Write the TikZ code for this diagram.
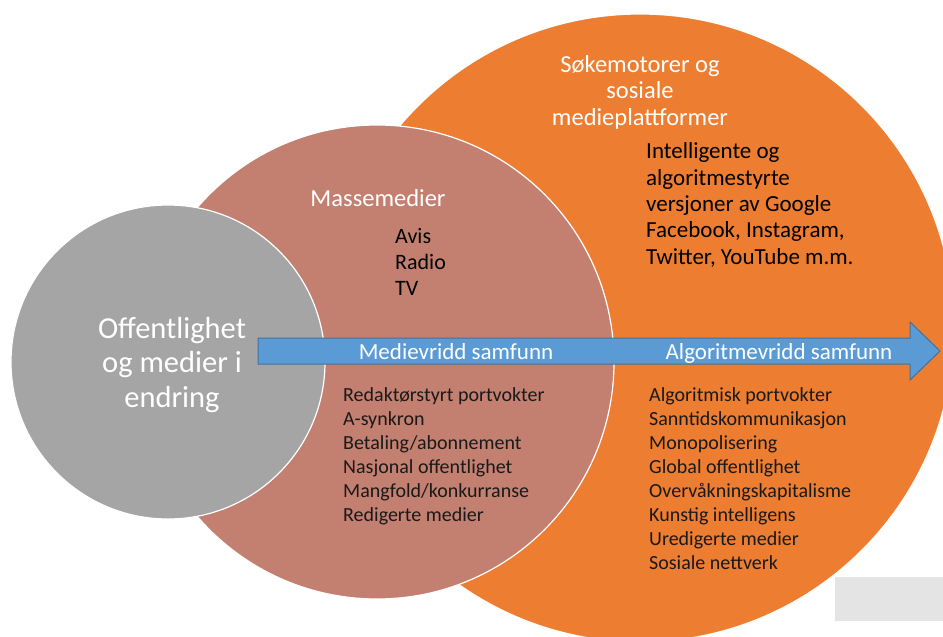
\documentclass[tikz,border=0pt]{standalone}
\usepackage{fontspec}
\setmainfont{Carlito}
\definecolor{platorange}{HTML}{ED7D31}
\definecolor{massbrown}{HTML}{C38070}
\definecolor{pubgray}{HTML}{A5A5A5}
\definecolor{arrowblue}{HTML}{5B9BD5}
\definecolor{arrowedge}{HTML}{41719C}
\definecolor{tabgray}{HTML}{E4E4E4}
\begin{document}
\begin{tikzpicture}[x=1pt,y=-1pt,
  disc/.style={circle, draw=white, line width=1.2pt, inner sep=0pt},
  heading/.style={text=white, font=\fontsize{24.5}{26.5}\selectfont, align=center, inner sep=0pt, anchor=base},
  bodytext/.style={text=black, font=\fontsize{23}{26.3}\selectfont, align=left, inner sep=0pt, anchor=base west},
  shortlist/.style={text=black, font=\fontsize{22}{26}\selectfont, align=left, inner sep=0pt, anchor=base west},
  listtext/.style={text=black!90, font=\fontsize{20}{24}\selectfont, align=left, inner sep=0pt, anchor=base west},
  flowlabel/.style={text=white, font=\fontsize{23}{26}\selectfont, inner sep=0pt, anchor=base}]
\useasboundingbox (0,0) rectangle (943,637);
\clip (0,0) rectangle (943,637);

% three overlapping circles, largest first
\node[disc, fill=platorange, minimum size=628pt] (plat) at (640,328) {};
\node[disc, fill=massbrown, minimum size=474pt] (mass) at (377,362) {};
\node[disc, fill=pubgray, minimum size=314pt] (pub) at (168,362) {};
% multi-line labels are placed by the baseline of their last line
\node[text=white, font=\fontsize{30.5}{34.5}\selectfont, align=center,
      inner sep=0pt, anchor=base] (pubtext) at (172,407)
      {Offentlighet\\og medier i\\endring};

% grey tab in the lower right corner
\node[fill=tabgray, minimum width=108pt, minimum height=44pt, inner sep=0pt,
      anchor=north west] (tab) at (835,577) {};

% development arrow
\coordinate (tail) at (258,351);
\coordinate (headbase) at (910,351);
\coordinate (tip) at (940,351);
\draw[fill=arrowblue, draw=arrowedge, line width=1pt, line join=miter]
  ([yshift=-13pt]tail) -- ([yshift=-13pt]headbase) -- ([yshift=-29pt]headbase)
  -- (tip) -- ([yshift=29pt]headbase) -- ([yshift=13pt]headbase)
  -- ([yshift=13pt]tail) -- cycle;
\node[flowlabel] (medlabel) at (456,359) {Medievridd samfunn};
\node[flowlabel] (alglabel) at (779,359) {Algoritmevridd samfunn};

% mass media
\node[heading] (masshead) at (378,206) {Massemedier};
\node[shortlist] (masslist) at (395,295) {Avis\\Radio\\TV};
\node[listtext] (masstraits) at (343,521)
  {Redaktørstyrt portvokter\\A-synkron\\Betaling/abonnement\\Nasjonal offentlighet\\Mangfold/konkurranse\\Redigerte medier};

% search engines and social platforms
\node[heading] (plathead) at (640,125) {Søkemotorer og\\sosiale\\medieplattformer};
\node[bodytext] (platlist) at (646,264)
  {Intelligente og\\algoritmestyrte\\versjoner av Google\\Facebook, Instagram,\\Twitter, YouTube m.m.};
\node[listtext] (plattraits) at (649,569)
  {Algoritmisk portvokter\\Sanntidskommunikasjon\\Monopolisering\\Global offentlighet\\Overvåkningskapitalisme\\Kunstig intelligens\\Uredigerte medier\\Sosiale nettverk};
\end{tikzpicture}
\end{document}
